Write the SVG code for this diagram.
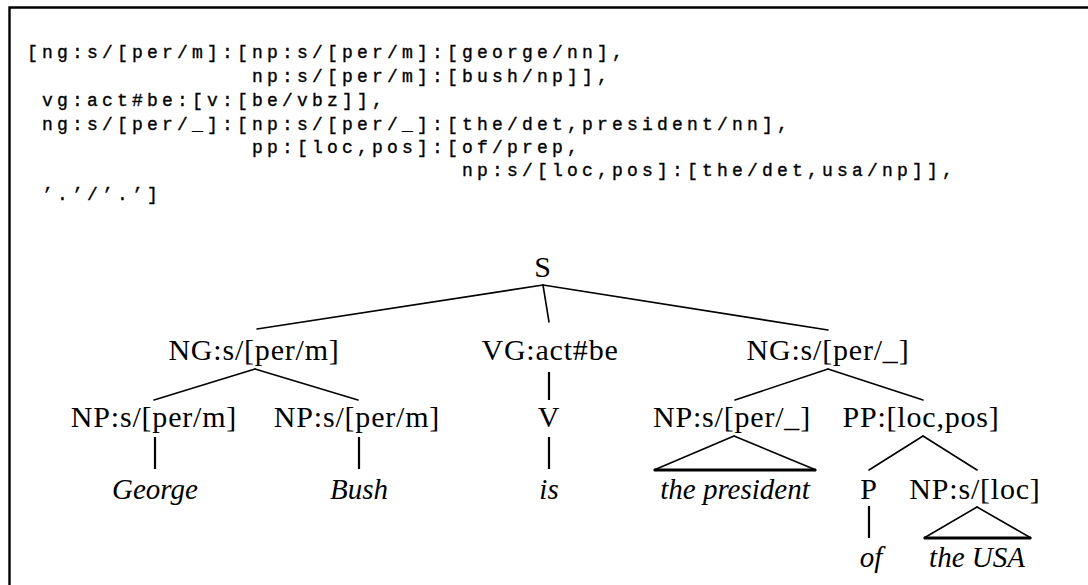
<svg xmlns="http://www.w3.org/2000/svg" width="1088" height="585" viewBox="0 0 1088 585">
  <style>
    .code { font-family: "Liberation Mono", "DejaVu Sans Mono", monospace; font-size: 18px; letter-spacing: 4.2px; fill: #000; stroke: #000; stroke-width: 0.35px; white-space: pre; }
    .lbl { font-family: "Liberation Serif", "DejaVu Serif", serif; font-size: 30px; letter-spacing: 0.8px; fill: #000; text-anchor: middle; }
    .word { font-family: "Liberation Serif", "DejaVu Serif", serif; font-size: 29px; font-style: italic; fill: #000; text-anchor: middle; }
    .edge { stroke: #000; stroke-width: 1.6; fill: none; stroke-linecap: round; }
    .stem { stroke: #000; stroke-width: 2.2; fill: none; }
    .base { stroke: #000; stroke-width: 3; fill: none; }
    .frame { stroke: #000; stroke-width: 2.4; fill: none; }
  </style>

  <rect width="1088" height="585" fill="#fff"/>

  <!-- frame: top and left rules only -->
  <path class="frame" d="M9.5,585 V7.5 H1088"/>

  <!-- Prolog term of the parse (fixed 15px columns) -->
  <g id="code">
    <text class="code" x="27" y="58" xml:space="preserve">[ng:s/[per/m]:[np:s/[per/m]:[george/nn],</text>
    <text class="code" x="27" y="82" xml:space="preserve">               np:s/[per/m]:[bush/np]],</text>
    <text class="code" x="27" y="106" xml:space="preserve"> vg:act#be:[v:[be/vbz]],</text>
    <text class="code" x="27" y="130" xml:space="preserve"> ng:s/[per/_]:[np:s/[per/_]:[the/det,president/nn],</text>
    <text class="code" x="27" y="153" xml:space="preserve">               pp:[loc,pos]:[of/prep,</text>
    <text class="code" x="27" y="176" xml:space="preserve">                             np:s/[loc,pos]:[the/det,usa/np]],</text>
    <text class="code" x="27" y="200" xml:space="preserve"> ’.’/’.’]</text>
  </g>

  <!-- tree branches -->
  <g id="connectors">
    <path class="edge" d="M543,285 L257,329"/>
    <path class="edge" d="M543,285 L549,322"/>
    <path class="edge" d="M543,285 L828,330"/>

    <path class="edge" d="M255,369 L154,400"/>
    <path class="edge" d="M255,369 L358,400"/>
    <path class="stem" d="M549,372 V400"/>
    <path class="edge" d="M828,369 L735,400"/>
    <path class="edge" d="M828,369 L923,400"/>

    <path class="stem" d="M155,437 V469"/>
    <path class="stem" d="M359,437 V469"/>
    <path class="stem" d="M549,437 V469"/>
    <path class="edge" d="M734,436 L654,470"/>
    <path class="edge" d="M734,436 L816,470"/>
    <path class="base" d="M654,470 H816"/>
    <path class="edge" d="M923,436 L869,470"/>
    <path class="edge" d="M923,436 L977,470"/>

    <path class="stem" d="M869,506 V538"/>
    <path class="edge" d="M977,507 L924,538"/>
    <path class="edge" d="M977,507 L1031,538"/>
    <path class="base" d="M924,538 H1031"/>
  </g>

  <g id="node-S"><text class="lbl" x="543" y="277">S</text></g>

  <g id="node-NG1"><text class="lbl" x="254" y="360">NG:s/[per/m]</text></g>
  <g id="node-VG"><text class="lbl" x="550" y="360">VG:act#be</text></g>
  <g id="node-NG2"><text class="lbl" x="828" y="360">NG:s/[per/_]</text></g>

  <g id="node-NP1"><text class="lbl" x="154" y="427">NP:s/[per/m]</text></g>
  <g id="node-NP2"><text class="lbl" x="357" y="427">NP:s/[per/m]</text></g>
  <g id="node-V"><text class="lbl" x="549" y="427">V</text></g>
  <g id="node-NP3"><text class="lbl" x="732" y="427">NP:s/[per/_]</text></g>
  <g id="node-PP"><text class="lbl" x="921" y="427">PP:[loc,pos]</text></g>

  <g id="word-george"><text class="word" x="155" y="499">George</text></g>
  <g id="word-bush"><text class="word" x="359" y="499">Bush</text></g>
  <g id="word-is"><text class="word" x="549" y="499">is</text></g>
  <g id="word-president"><text class="word" x="735" y="499">the president</text></g>
  <g id="node-P"><text class="lbl" x="869" y="499">P</text></g>
  <g id="node-NP4"><text class="lbl" x="975" y="499">NP:s/[loc]</text></g>

  <g id="word-of"><text class="word" x="871" y="567">of</text></g>
  <g id="word-usa"><text class="word" x="977" y="567">the USA</text></g>
</svg>
